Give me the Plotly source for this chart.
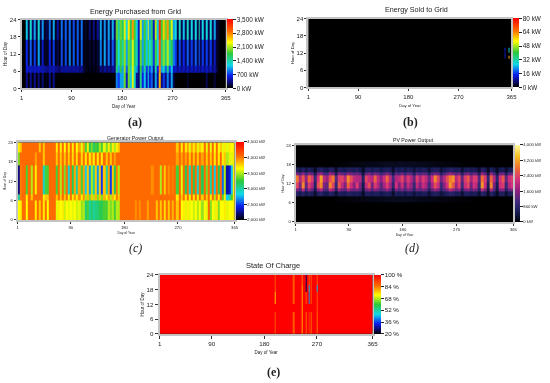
import plotly.graph_objects as go

W, H = 550, 383
half_weeks = [1 + 3.5 * i for i in range(105)]  # 52 weeks, two columns each
days_5 = list(range(1, 367, 5))  # 73 five-day columns (edges)
x_ticks = [1, 90, 180, 270, 365]
y_ticks = [0, 6, 12, 18, 24]

# (a) Energy purchased from grid, kW  (pairs: busy half of week, quiet half of week)
a_hours = [0, 5.5, 8, 17, 24]
a_night = [0,0, 350,30, 350,30, 350,30, 300,30, 300,20, 50,0, 350,20, 350,20, 0,0, 0,0, 0,0, 0,0,
           0,0, 0,0, 0,0, 0,0, 0,0, 0,0, 0,0, 0,0, 0,0, 0,0, 0,0, 900,700, 1000,1000,
           1900,500, 1900,1100, 2200,1300, 400,300, 1500,600, 1100,500, 1200,500, 800,200, 1000,400, 2600,300, 700,300, 900,300, 1000,200,
           0,0, 0,0, 0,0, 100,0, 0,0, 0,0, 0,0, 0,0, 200,0, 0,0, 150,0, 0,0, 0,0]
a_morn = [0,0, 550,450, 500,450, 500,450, 500,450, 450,400, 350,300, 450,400, 450,350, 300,250, 400,350, 400,350, 400,350,
          400,350, 400,300, 350,150, 80,30, 80,30, 80,40, 100,50, 350,200, 400,250, 350,250, 400,300, 1500,1000, 1700,1000,
          2000,800, 1900,1300, 2200,1400, 1000,400, 1700,800, 1400,700, 1500,700, 1000,400, 1400,600, 2800,1000, 1300,800, 1500,700, 1100,500,
          500,350, 500,350, 500,350, 500,350, 500,350, 500,350, 500,350, 500,350, 500,350, 500,300, 400,200, 0,0, 0,0]
a_day = [0,0, 650,100, 800,100, 700,100, 1000,100, 500,80, 100,50, 600,80, 700,60, 200,30, 750,60, 750,60, 900,80,
         800,60, 750,60, 800,50, 80,20, 120,20, 150,30, 150,30, 900,100, 1000,200, 900,200, 800,300, 1700,1200, 1800,1400,
         2000,1000, 1900,1500, 2200,1600, 1300,500, 1900,1000, 1700,1100, 1800,1200, 1500,700, 1800,1200, 3000,1500, 2000,1500, 2100,1400, 1700,900,
         700,150, 750,200, 650,200, 800,200, 700,200, 800,200, 800,200, 700,200, 700,200, 700,150, 500,100, 50,0, 0,0]
a_eve = [0,0, 1100,150, 1250,250, 1000,150, 1250,200, 950,100, 200,60, 850,100, 1000,80, 400,60, 850,100, 800,100, 850,100,
         750,80, 800,80, 850,60, 100,20, 300,30, 350,40, 400,50, 1000,120, 950,150, 1000,200, 1050,300, 1900,1400, 1900,1600,
         2200,1200, 2400,1700, 2700,1800, 1200,500, 2200,1000, 1800,1100, 2200,1000, 1600,500, 2100,1100, 3200,1800, 2500,1900, 2700,1600, 2200,1000,
         1200,200, 1300,200, 1100,200, 1300,200, 1200,200, 1200,200, 1400,250, 1200,200, 1200,200, 1200,200, 1000,150, 100,0, 0,0]

# (b) Energy sold to grid, kW
b_days = [1, 352, 355, 359, 362, 365]
b_hours = [0, 10, 11, 12, 13, 14, 24]
b_r0 = [0, 0, 0, 0, 0]
b_r1 = [0, 10, 0, 60, 0]
b_r2 = [0, 12, 0, 0, 0]
b_r3 = [0, 8, 0, 35, 0]
b_r4 = [0, 14, 0, 28, 0]
b_r5 = [0, 0, 0, 0, 0]

# (c) Generator power output, kW
c_hours = [0, 6, 8, 17, 21, 24]
c_night = [3650,3700, 4050,4050, 3650,4050, 4050,4050, 3700,4050, 3800,4050, 3700,4050, 3650,4050, 4050,4050, 3600,3700, 3650,3700, 3550,3650, 3600,3650,
           3600,3650, 3550,3600, 3450,3500, 3100,3300, 3000,3150, 3000,3100, 3100,3200, 3200,3300, 3300,3500, 3400,3500, 3300,3500, 3500,4050, 4050,4050,
           4050,4050, 4050,4050, 3950,4050, 3950,4050, 4050,4050, 3900,4050, 4050,4050, 3800,4050, 3800,4050, 3750,4050, 3800,4050, 3850,4050, 3800,4050,
           3650,3700, 3600,3700, 3600,3650, 3550,3650, 3500,3650, 3450,3650, 3600,4050, 3400,3650, 3600,3700, 3400,3650, 3650,3700, 3600,3650, 3650,3700]
c_morn = [3000,4000, 4050,4050, 3700,4050, 3800,4050, 4050,4050, 4050,4050, 3700,3800, 3800,4050, 4050,4050, 3800,4050, 3800,4050, 3800,4050, 3600,4050,
          3700,3950, 3700,3950, 3700,3950, 3500,3850, 3400,3800, 3500,3850, 3400,3800, 3400,3850, 3600,3900, 3500,3850, 3700,4000, 3800,4050, 4050,4050,
          4050,4050, 4050,4050, 4050,4050, 4050,4050, 4050,4050, 4050,4050, 4050,4050, 4050,4050, 4050,4050, 4050,4050, 4050,4050, 4050,4050, 3700,4050,
          3800,4050, 3700,4050, 3600,4050, 3700,4050, 3600,4050, 3800,4050, 3800,4050, 3700,4050, 3500,4050, 3700,4050, 3300,3700, 2800,3000, 3300,3700]
c_day = [2250,4000, 4050,4050, 3300,4050, 3500,4050, 3700,4050, 4050,4050, 2900,3300, 3300,4050, 4050,4050, 3300,4050, 3500,4050, 3400,4050, 2900,4050,
         3200,3900, 3000,3900, 3300,3900, 2800,3800, 2700,3500, 3000,3800, 2700,3800, 2500,3800, 3000,3900, 2500,3800, 3200,4000, 3500,4050, 4050,4050,
         4050,4050, 4050,4050, 4050,4050, 4050,4050, 4050,4050, 4050,4050, 3950,4050, 4050,4050, 3500,4050, 3800,4050, 3950,4050, 4000,4050, 3300,4050,
         3600,4050, 3200,4050, 2900,4050, 3200,4050, 2900,4050, 3200,4050, 3400,4050, 3000,4050, 2800,4050, 3200,4050, 2600,3500, 2300,2400, 2800,3700]
c_eve = [3400,4050, 4050,4050, 4050,4050, 4050,4050, 3900,4050, 4050,4050, 3800,4050, 4050,4050, 4050,4050, 3800,4050, 3800,4050, 3800,4050, 3800,4050,
         3750,4050, 3750,4050, 3750,4050, 3700,4050, 3700,3950, 3700,4050, 3700,4050, 3700,4050, 3800,4050, 3800,4050, 3900,4050, 4050,4050, 4050,4050,
         4050,4050, 4050,4050, 4050,4050, 4050,4050, 4050,4050, 4050,4050, 4050,4050, 4050,4050, 4050,4050, 4050,4050, 4050,4050, 4050,4050, 3900,4050,
         3900,4050, 3900,4050, 3800,4050, 3800,4050, 3800,4050, 3900,4050, 3800,4050, 3800,4050, 3700,4050, 3700,4050, 3700,3800, 3500,3600, 3600,3700]
c_top = [3700,3800, 4050,4050, 4050,4050, 4050,4050, 4050,4050, 3800,4050, 3800,4050, 4050,4050, 4050,4050, 3700,4050, 3700,4050, 3650,4050, 3700,4050,
         3700,4050, 3650,3900, 3600,3900, 3300,3700, 3200,3400, 3150,3300, 3250,3500, 3300,3600, 3400,3700, 3400,3700, 3500,3700, 3800,4050, 4050,4050,
         4050,4050, 4050,4050, 4050,4050, 4050,4050, 4050,4050, 4050,4050, 4050,4050, 4050,4050, 4050,4050, 4050,4050, 4050,4050, 4050,4050, 3800,4050,
         3700,4050, 3700,3900, 3600,3900, 3700,3900, 3600,3800, 3700,4050, 3600,4050, 3600,4050, 3650,4050, 3650,3800, 3600,3700, 3600,3700, 3650,3700]

# (d) PV power output, kW
d_hours = [0, 6, 8, 9.5, 10.5, 12.5, 14.5, 15.5, 17, 19, 24]
d_zero = [0] * 73
d_dawn = [0,0,0,0,0,0,0,0,0,0,
          0,0,0,30,40,50,60,60,70,80,
          90,100,110,120,130,140,140,150,160,160,
          170,170,180,180,180,180,180,170,170,160,
          160,150,150,140,130,130,120,110,100,90,
          80,70,70,60,50,40,40,30,30,20,
          0,0,0,0,0,0,0,0,0,0,
          0,0,0]
d_low = [700,500,750,450,650,550,250,650,750,500,
         450,700,650,300,650,550,500,700,600,550,
         600,500,200,600,650,500,650,600,450,550,
         650,550,250,600,500,600,450,600,550,350,
         550,500,600,550,300,550,650,600,350,500,
         600,750,700,550,600,300,600,650,500,600,
         550,300,750,600,200,750,500,200,600,600,
         300,550,600]
d_mid = [1500,1100,2000,1000,1700,1300,500,1600,1900,1200,
         1100,2000,1700,700,1700,1400,1200,1800,1500,1300,
         1500,1200,400,1400,1600,1200,1600,1400,1100,1300,
         1700,1300,500,1500,1200,1500,1100,1500,1300,800,
         1400,1200,1500,1300,700,1300,1700,1500,800,1200,
         1500,2000,1700,1300,1600,700,1400,1600,1200,1600,
         1400,700,2000,1500,400,1900,1200,400,1500,1600,
         700,1300,1500]
d_peak1 = [2400,1500,3000,1300,2300,1900,700,2500,3000,1500,
           1300,3000,2400,900,2600,2000,1500,2700,2100,1600,
           2300,1500,500,2000,2500,1400,2300,1900,1200,1800,
           2300,1800,800,2200,1500,2100,1300,2000,1700,900,
           2000,1500,2100,1800,1000,1800,2500,2100,1000,1600,
           2200,3100,2600,1700,2300,1000,2100,2400,1400,2200,
           2000,900,3100,2100,600,3000,1500,500,2100,2300,
           900,1900,2200]
d_peak2 = [2900,1900,2600,1700,2700,2300,900,2200,3200,2000,
           1700,2500,2900,1200,2300,2400,1900,3000,2500,2000,
           1900,1900,700,2400,2100,1900,2700,2000,1600,2100,
           2700,2000,1100,1900,2000,2400,1700,2300,1900,1300,
           2300,1800,2300,2000,1300,2100,3000,2400,1400,1900,
           2500,2900,3100,2000,2400,1300,2300,2600,1800,2300,
           2300,1200,2800,2300,900,2700,1900,800,2200,2600,
           1300,2100,2300]
d_high = [1500,1100,1700,1000,1500,1300,500,1500,1700,1100,
          1000,1700,1500,600,1500,1300,1100,1600,1400,1200,
          1400,1100,400,1300,1500,1100,1500,1300,1000,1200,
          1500,1200,500,1300,1100,1400,1000,1300,1200,700,
          1300,1100,1300,1200,700,1200,1500,1300,700,1100,
          1400,1700,1500,1200,1400,700,1300,1500,1100,1400,
          1300,600,1700,1300,400,1700,1100,400,1300,1400,
          600,1200,1400]
d_late = [600,450,700,400,600,500,200,600,700,500,
          450,700,600,250,650,550,500,650,600,550,
          650,500,200,600,650,500,650,600,450,550,
          650,550,250,600,500,600,450,600,550,350,
          550,500,600,550,300,550,650,600,350,500,
          600,700,650,550,600,300,550,600,500,600,
          500,250,700,550,200,650,450,200,500,550,
          250,500,550]
d_dusk = [0,0,0,0,0,0,0,0,0,0,
          0,0,20,20,30,40,50,60,80,90,
          100,110,120,130,140,150,150,160,170,180,
          180,190,190,190,200,200,190,190,180,180,
          170,170,160,150,140,130,120,110,100,90,
          80,70,60,50,40,30,20,20,0,0,
          0,0,0,0,0,0,0,0,0,0,
          0,0,0]

# (e) State of charge, %
e_days = [1, 197, 199, 229, 231, 243, 245, 250, 252, 256, 258, 259, 261, 269, 271, 365]
e_hours = [0, 9, 12, 17, 20, 24]
e_r0 = [100, 88, 100, 88, 100, 80, 100, 86, 100, 92, 100, 86, 100, 85, 100]
e_r1 = [100, 100, 100, 100, 100, 80, 100, 100, 100, 100, 100, 100, 100, 88, 100]
e_r2 = [100, 78, 100, 88, 100, 80, 100, 88, 100, 42, 100, 88, 100, 88, 100]
e_r3 = [100, 88, 100, 88, 100, 80, 100, 25, 100, 45, 100, 88, 100, 45, 100]
e_r4 = [100, 88, 100, 88, 100, 85, 100, 25, 100, 88, 100, 88, 100, 88, 100]

for s in (a_night, a_morn, a_day, a_eve, c_night, c_morn, c_day, c_eve, c_top):
    assert len(s) == 104, len(s)
for s in (d_dawn, d_low, d_mid, d_peak1, d_peak2, d_high, d_late, d_dusk):
    assert len(s) == 73, len(s)

HOMER = [[0, "#000000"], [0.08, "#0a0a70"], [0.18, "#0a20f0"], [0.33, "#10d8e8"],
         [0.5, "#2ec83c"], [0.66, "#ffff00"], [0.82, "#ff6a00"], [1, "#ff0000"]]
PV = [[0, "#000000"], [0.12, "#141a50"], [0.25, "#3a2a7c"], [0.4, "#8c2080"],
      [0.55, "#d6307c"], [0.7, "#f06c30"], [0.85, "#f5c020"], [1, "#fff8a0"]]

FONT = "Liberation Sans"
INK = "#222222"
fig = go.Figure()
layout = dict(width=W, height=H, autosize=False, margin=dict(l=0, r=0, t=0, b=0),
              paper_bgcolor="white", plot_bgcolor="black", showlegend=False)
annots = []


def panel(i, x, y, z, rng, cticks, scale, box, cbar, title, title_xy, sub, sub_xy,
          tf, af, cf, tsize, st_x, st_y, tl=2):
    l, t, r, b = box
    ax = "" if i == 1 else str(i)
    fig.add_trace(go.Heatmap(
        x=x, y=y, z=z, zmin=rng[0], zmax=rng[1], colorscale=scale, zsmooth=False,
        xaxis="x" + ax, yaxis="y" + ax, hoverinfo="skip",
        colorbar=dict(x=cbar[0] / W, xanchor="left", y=1 - b / H, yanchor="bottom",
                      len=(b - t) / H, lenmode="fraction", thickness=cbar[1],
                      thicknessmode="pixels", xpad=0, ypad=0, outlinewidth=0,
                      tickmode="array", tickvals=cticks[0], ticktext=cticks[1],
                      ticks="outside", ticklen=3, tickwidth=1, tickcolor=INK,
                      tickfont=dict(family=FONT, size=cf, color=INK))))
    common = dict(showline=True, linecolor="#c4c4c4", linewidth=2, mirror=True, ticks="outside",
                  ticklen=tl, tickwidth=1, tickcolor="#333333", showgrid=False, zeroline=False,
                  tickfont=dict(family=FONT, size=tf, color=INK))
    layout["xaxis" + ax] = dict(common, domain=[l / W, r / W], range=[1, 365], tickmode="array",
                                tickvals=x_ticks, anchor="y" + ax,
                                title=dict(text="Day of Year", standoff=st_x,
                                           font=dict(family=FONT, size=af, color=INK)))
    layout["yaxis" + ax] = dict(common, domain=[1 - b / H, 1 - t / H], range=[0, 24], tickmode="array",
                                tickvals=y_ticks, anchor="x" + ax,
                                title=dict(text="Hour of Day", standoff=st_y,
                                           font=dict(family=FONT, size=af, color=INK)))
    annots.append(dict(text=title, xref="paper", yref="paper", x=title_xy[0] / W, y=1 - title_xy[1] / H,
                       showarrow=False, xanchor="center", yanchor="middle",
                       font=dict(family=FONT, size=tsize, color=INK)))
    annots.append(dict(text=sub, xref="paper", yref="paper", x=sub_xy[0] / W, y=1 - sub_xy[1] / H,
                       showarrow=False, xanchor="center", yanchor="middle",
                       font=dict(family="Liberation Serif", size=12, color=INK)))


def ct(vals, unit):
    return [vals, [f"{v:,} {unit}" for v in vals]]


panel(1, half_weeks, a_hours, [a_night, a_morn, a_day, a_eve], (0, 3500),
      ct([0, 700, 1400, 2100, 2800, 3500], "kW"), HOMER, (20, 16, 227, 86), (228, 6),
      "Energy Purchased from Grid", (135, 8), "<b>(a)</b>", (135, 120), 6, 4.5, 6.4, 7.2, 5, 2)
panel(2, b_days, b_hours, [b_r0, b_r1, b_r2, b_r3, b_r4, b_r5], (0, 80),
      ct([0, 16, 32, 48, 64, 80], "kW"), HOMER, (311, 15, 517, 85), (519, 6),
      "Energy Sold to Grid", (421, 6), "<b>(b)</b>", (415, 120), 6, 4.2, 6.4, 7.2, 5, 2)
panel(3, half_weeks, c_hours, [c_night, c_morn, c_day, c_eve, c_top], (2000, 4500),
      ct([2000, 2500, 3000, 3500, 4000, 4500], "kW"), HOMER, (16, 141, 236, 220), (237, 8),
      "Generator Power Output", (135, 136), "<i>(c)</i>", (135, 249), 4.2, 3.4, 4.2, 5.2, 3, 2)
panel(4, days_5, d_hours, [d_zero, d_dawn, d_low, d_mid, d_peak1, d_peak2, d_high, d_late, d_dusk, d_zero], (0, 4000),
      ct([0, 800, 1600, 2400, 3200, 4000], "kW"), PV, (298, 144, 519, 222), (521, 5),
      "PV Power Output", (418, 139), "<i>(d)</i>", (416, 249), 4.2, 3.4, 4.2, 5.2, 3, 2)
panel(5, e_days, e_hours, [e_r0, e_r1, e_r2, e_r3, e_r4], (20, 100),
      ct([20, 36, 52, 68, 84, 100], "%"), HOMER, (160, 276, 376, 336), (377, 7),
      "State Of Charge", (275, 266), "<b>(e)</b>", (275, 375), 6.2, 4.5, 6.2, 7.5, 5, 2, tl=3)

layout["annotations"] = annots
fig.update_layout(**layout)
fig.write_html("out.html", config={"displayModeBar": False},
               post_script="document.body.style.margin='0';document.body.style.overflow='hidden';"
                           "document.body.style.filter='blur(0.4px)';")
